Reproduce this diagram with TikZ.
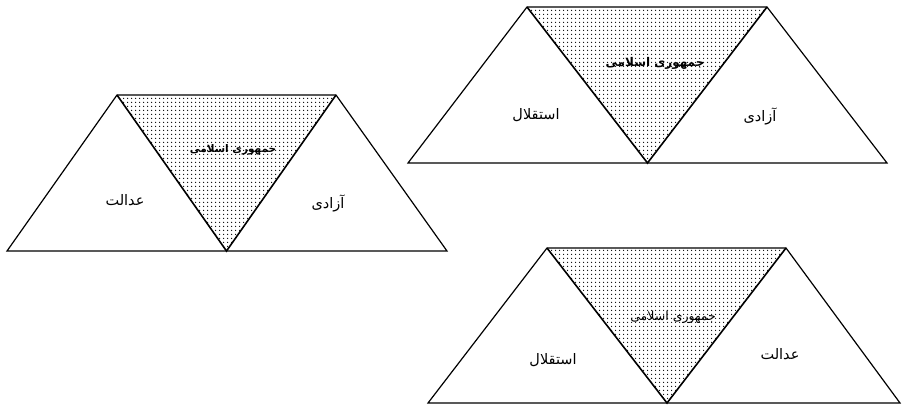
\documentclass[tikz,border=0pt]{standalone}
\usepackage{fontspec}
\TeXXeTstate=1
\newfontfamily\arabicfont[Script=Arabic]{DejaVu Sans}
\usetikzlibrary{patterns.meta}
\tikzset{
  edge/.style={line width=1.2pt, line join=miter},
  inner/.style={line width=1.6pt},
  dotfill/.style={pattern={Dots[distance=4pt,radius=0.8pt]}, pattern color=black},
  word/.style={font=\arabicfont\fontsize{14.5}{16}\selectfont, inner sep=0pt},
  title/.style={font=\arabicfont\bfseries\fontsize{10.5}{12}\selectfont, inner sep=0pt}
}
\begin{document}
\begin{tikzpicture}[x=1pt,y=-1pt]
\useasboundingbox (0,0) rectangle (902,405);
% ---- trapezoid 1 (left)
\coordinate (a1) at (7,251);
\coordinate (a2) at (226.5,251);
\coordinate (a3) at (447,251);
\coordinate (a4) at (117,95);
\coordinate (a5) at (336,95);
\fill[dotfill] (a4) -- (a5) -- (a2) -- cycle;
\draw[edge] (a1) -- (a3) -- (a5) -- (a4) -- cycle;
\draw[inner] (a4) -- (a2) -- (a5);
\node[word] (a1t) at (125,200) {\beginR عدالت\endR};
\node[word] (a3t) at (328,203) {\beginR آزادی\endR};
\node[title] (a2t) at (233,150) {\beginR جمهوری اسلامی\endR};
% ---- trapezoid 2 (top right)
\coordinate (b1) at (408,163);
\coordinate (b2) at (647.5,163);
\coordinate (b3) at (887,163);
\coordinate (b4) at (527,7);
\coordinate (b5) at (767,7);
\fill[dotfill] (b4) -- (b5) -- (b2) -- cycle;
\draw[edge] (b1) -- (b3) -- (b5) -- (b4) -- cycle;
\draw[inner] (b4) -- (b2) -- (b5);
\node[word] (b1t) at (536,115) {\beginR استقلال\endR};
\node[word] (b3t) at (760,116) {\beginR آزادی\endR};
\node[title, font=\arabicfont\bfseries\fontsize{12}{14}\selectfont] (b2t) at (655,63) {\beginR جمهوری اسلامی\endR};
% ---- trapezoid 3 (bottom right)
\coordinate (c1) at (428,403);
\coordinate (c2) at (667,403);
\coordinate (c3) at (900,403);
\coordinate (c4) at (547,248);
\coordinate (c5) at (786,248);
\fill[dotfill] (c4) -- (c5) -- (c2) -- cycle;
\draw[edge] (c1) -- (c3) -- (c5) -- (c4) -- cycle;
\draw[inner] (c4) -- (c2) -- (c5);
\node[word] (c1t) at (553,360) {\beginR استقلال\endR};
\node[word] (c3t) at (780,354) {\beginR عدالت\endR};
\node[title, font=\arabicfont\fontsize{12.5}{14}\selectfont] (c2t) at (673,317) {\beginR جمهوری اسلامی\endR};
\end{tikzpicture}
\end{document}
